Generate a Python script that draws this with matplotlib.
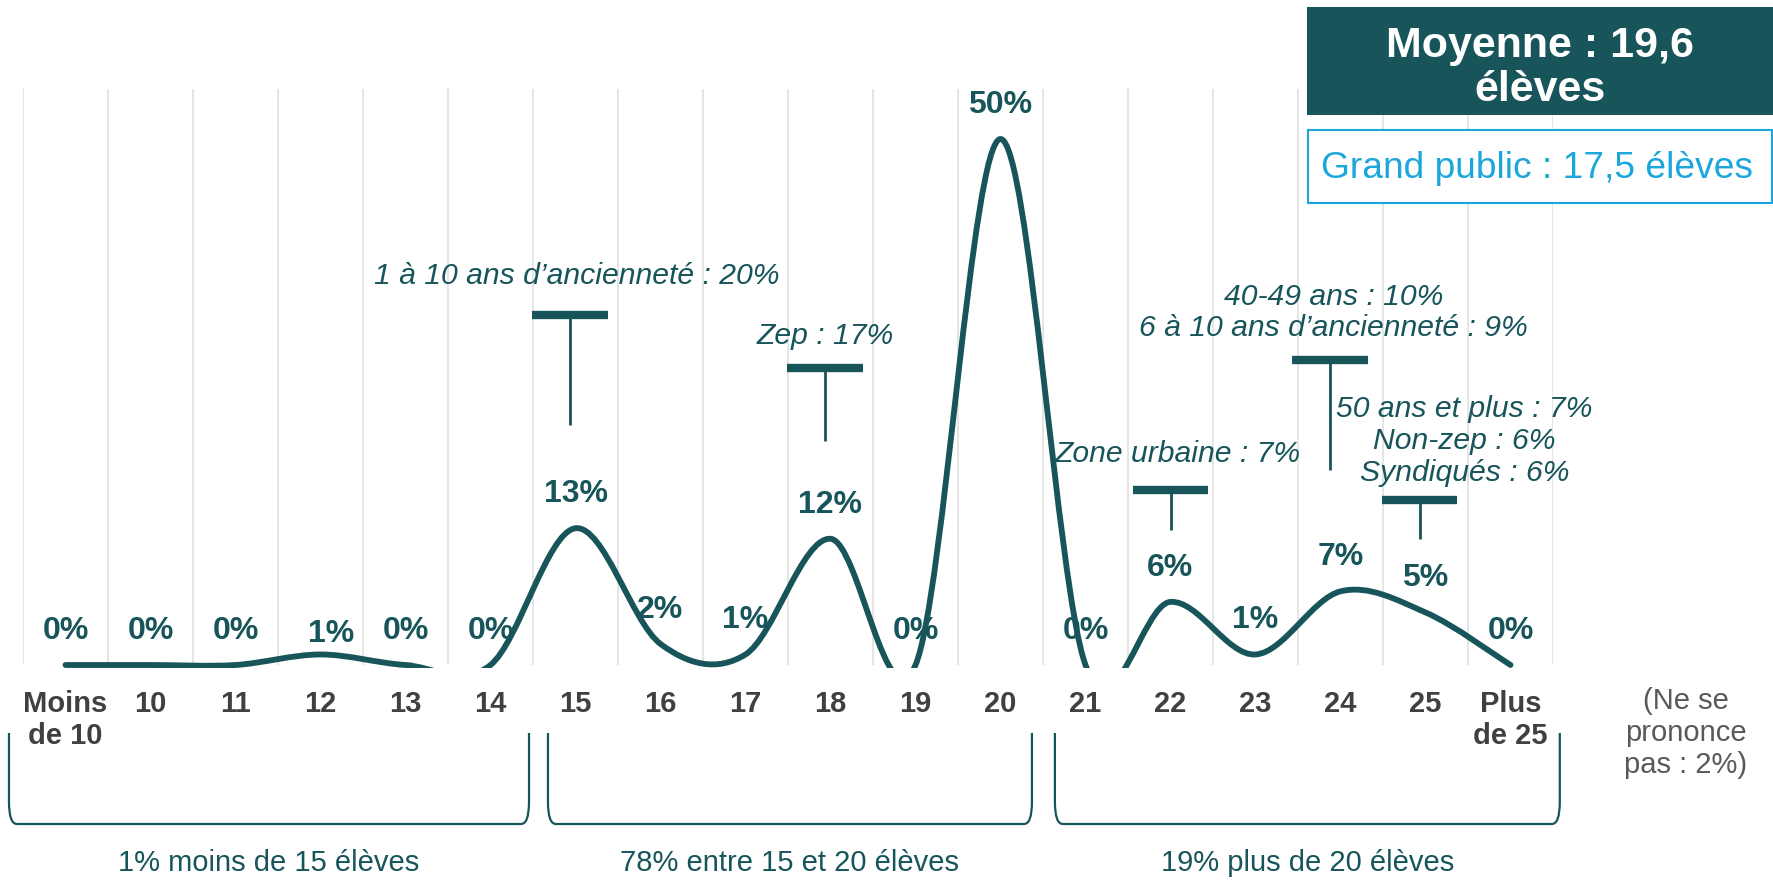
import matplotlib
matplotlib.use("Agg")
import matplotlib.pyplot as plt
from matplotlib.path import Path
from matplotlib.patches import PathPatch, Rectangle
from matplotlib.transforms import blended_transform_factory
import numpy as np

plt.rcParams['font.family'] = ['Liberation Sans', 'DejaVu Sans']

# ---------------- data ----------------
categories = ["Moins\nde 10", "10", "11", "12", "13", "14", "15", "16", "17", "18",
              "19", "20", "21", "22", "23", "24", "25", "Plus\nde 25"]
values = [0, 0, 0, 1, 0, 0, 13, 2, 1, 12, 0, 50, 0, 6, 1, 7, 5, 0]

group_labels = ["1% moins de 15 élèves", "78% entre 15 et 20 élèves", "19% plus de 20 élèves"]
no_answer = "(Ne se\nprononce\npas : 2%)"
mean_text = "Moyenne : 19,6\nélèves"
public_text = "Grand public : 17,5 élèves"

ann_texts = ["1 à 10 ans d’ancienneté : 20%",
             "Zep : 17%",
             "Zone urbaine : 7%",
             "40-49 ans : 10%\n6 à 10 ans d’ancienneté : 9%",
             "50 ans et plus : 7%\nNon-zep : 6%\nSyndiqués : 6%"]

# ---------------- layout (positions, not data) ----------------
ann_bar_x = [5.935, 8.935, 13.0, 14.88, 15.93]
ann_bar_y = [33.3, 28.2, 16.6, 29.0, 15.7]
ann_stem_bottom = [22.8, 21.3, 12.8, 18.5, 12.0]
ann_text_x = [6.02, 8.94, 13.09, 14.92, 16.46]
ann_text_y = [37.0, 31.3, 20.1, 33.5, 21.3]
bracket_x = [(-0.665, 5.453), (5.676, 11.37), (11.64, 17.58)]

TEAL = "#17555A"
CYAN = "#1BA6DC"
GRID = "#E3E3E3"
TICK = "#404040"
GRAY = "#595959"

W, H = 1773, 880
fig = plt.figure(figsize=(W / 100, H / 100), dpi=100)

def fx(x):
    return x / W

def fy(y):
    return 1 - y / H

y0_px, ytop_px = 665, 89
px_per_unit = (665 - 139) / 50.0
ymin = -3.0 / px_per_unit
ymax = (y0_px - ytop_px) / px_per_unit
bottom_px = y0_px + 3.0
ax = fig.add_axes([fx(23), fy(bottom_px), (1553 - 23) / W, (bottom_px - ytop_px) / H])
ax.set_xlim(-0.5, 17.5)
ax.set_ylim(ymin, ymax)
for s in ax.spines.values():
    s.set_visible(False)
ax.set_yticks([])

x = np.arange(len(values))
# gridlines at category boundaries
ax.vlines(np.arange(-0.5, len(values)), 0, ymax, colors=GRID, linewidth=1.3, zorder=0)

ax.set_xticks(x)
ax.set_xticklabels(categories, fontsize=21, fontweight='bold', color=TICK, linespacing=1.2)
ax.tick_params(axis='x', length=0, pad=15.5)

# smoothed line (Bezier through the points, Excel-style smoothing)
pts = np.column_stack([x, values]).astype(float)
verts = [tuple(pts[0])]
codes = [Path.MOVETO]
n = len(pts)
for i in range(n - 1):
    p0 = pts[i - 1] if i > 0 else pts[i]
    p1 = pts[i]
    p2 = pts[i + 1]
    p3 = pts[i + 2] if i + 2 < n else pts[i + 1]
    c1 = p1 + (p2 - p0) / 6.0
    c2 = p2 - (p3 - p1) / 6.0
    verts += [tuple(c1), tuple(c2), tuple(p2)]
    codes += [Path.CURVE4] * 3
curve = PathPatch(Path(verts, codes), fill=False, edgecolor=TEAL, linewidth=4.2,
                  capstyle='round', joinstyle='round', zorder=3)
ax.add_patch(curve)

# data labels
label_offsets = {3: (8, -10)}
for i, v in enumerate(values):
    dx, dy = label_offsets.get(i, (0, 0))
    ax.annotate(f"{v}%", (i, v), xytext=(dx, 24.5 + dy), textcoords='offset points',
                ha='center', va='center', fontsize=23, fontweight='bold', color=TEAL,
                annotation_clip=False, zorder=4)

# T-shaped annotation markers
for bx, by, sb, tx, ty, t in zip(ann_bar_x, ann_bar_y, ann_stem_bottom, ann_text_x, ann_text_y, ann_texts):
    ax.plot([bx - 0.445, bx + 0.445], [by, by], color=TEAL, linewidth=6.0,
            solid_capstyle='butt', zorder=3)
    ax.plot([bx, bx], [by, sb], color=TEAL, linewidth=2.0, solid_capstyle='butt', zorder=3)
    ax.text(tx, ty, t, ha='center', va='center', fontsize=21.7, fontstyle='italic',
            color=TEAL, linespacing=1.17, zorder=4)

# brackets below the axis
btrans = blended_transform_factory(ax.transData, fig.transFigure)
ytop_b, ybot_b = fy(733), fy(824)
ry = 22 / H
rx = 8 / 85.0
for (xa, xb), lab in zip(bracket_x, group_labels):
    bverts = [(xa, ytop_b), (xa, ybot_b + ry), (xa, ybot_b), (xa + rx, ybot_b),
              (xb - rx, ybot_b), (xb, ybot_b), (xb, ybot_b + ry), (xb, ytop_b)]
    bcodes = [Path.MOVETO, Path.LINETO, Path.CURVE3, Path.CURVE3,
              Path.LINETO, Path.CURVE3, Path.CURVE3, Path.LINETO]
    fig.add_artist(PathPatch(Path(bverts, bcodes), fill=False, edgecolor=TEAL,
                             linewidth=1.6, transform=btrans))
    fig.text((xa + xb) / 2, fy(863), lab, transform=btrans, ha='center', va='center',
             fontsize=21, color=TEAL)

# no answer note
fig.text(fx(1686), fy(733), no_answer, ha='center', va='center', fontsize=21,
         color=GRAY, linespacing=1.2)

# mean box
fig.add_artist(Rectangle((fx(1307), fy(115)), (1773 - 1307) / W, (115 - 7) / H,
                         transform=fig.transFigure, facecolor=TEAL, edgecolor='none'))
fig.text(fx(1540), fy(68), mean_text, ha='center', va='center', fontsize=31,
         fontweight='bold', color='white', linespacing=1.1)

# grand public box
fig.add_artist(Rectangle((fx(1308), fy(203)), (1772 - 1308) / W, (203 - 130) / H,
                         transform=fig.transFigure, facecolor='white', edgecolor=CYAN,
                         linewidth=1.5))
fig.text(fx(1537), fy(169), public_text, ha='center', va='center', fontsize=26.7,
         color=CYAN)

fig.savefig("out.png", dpi=100)
